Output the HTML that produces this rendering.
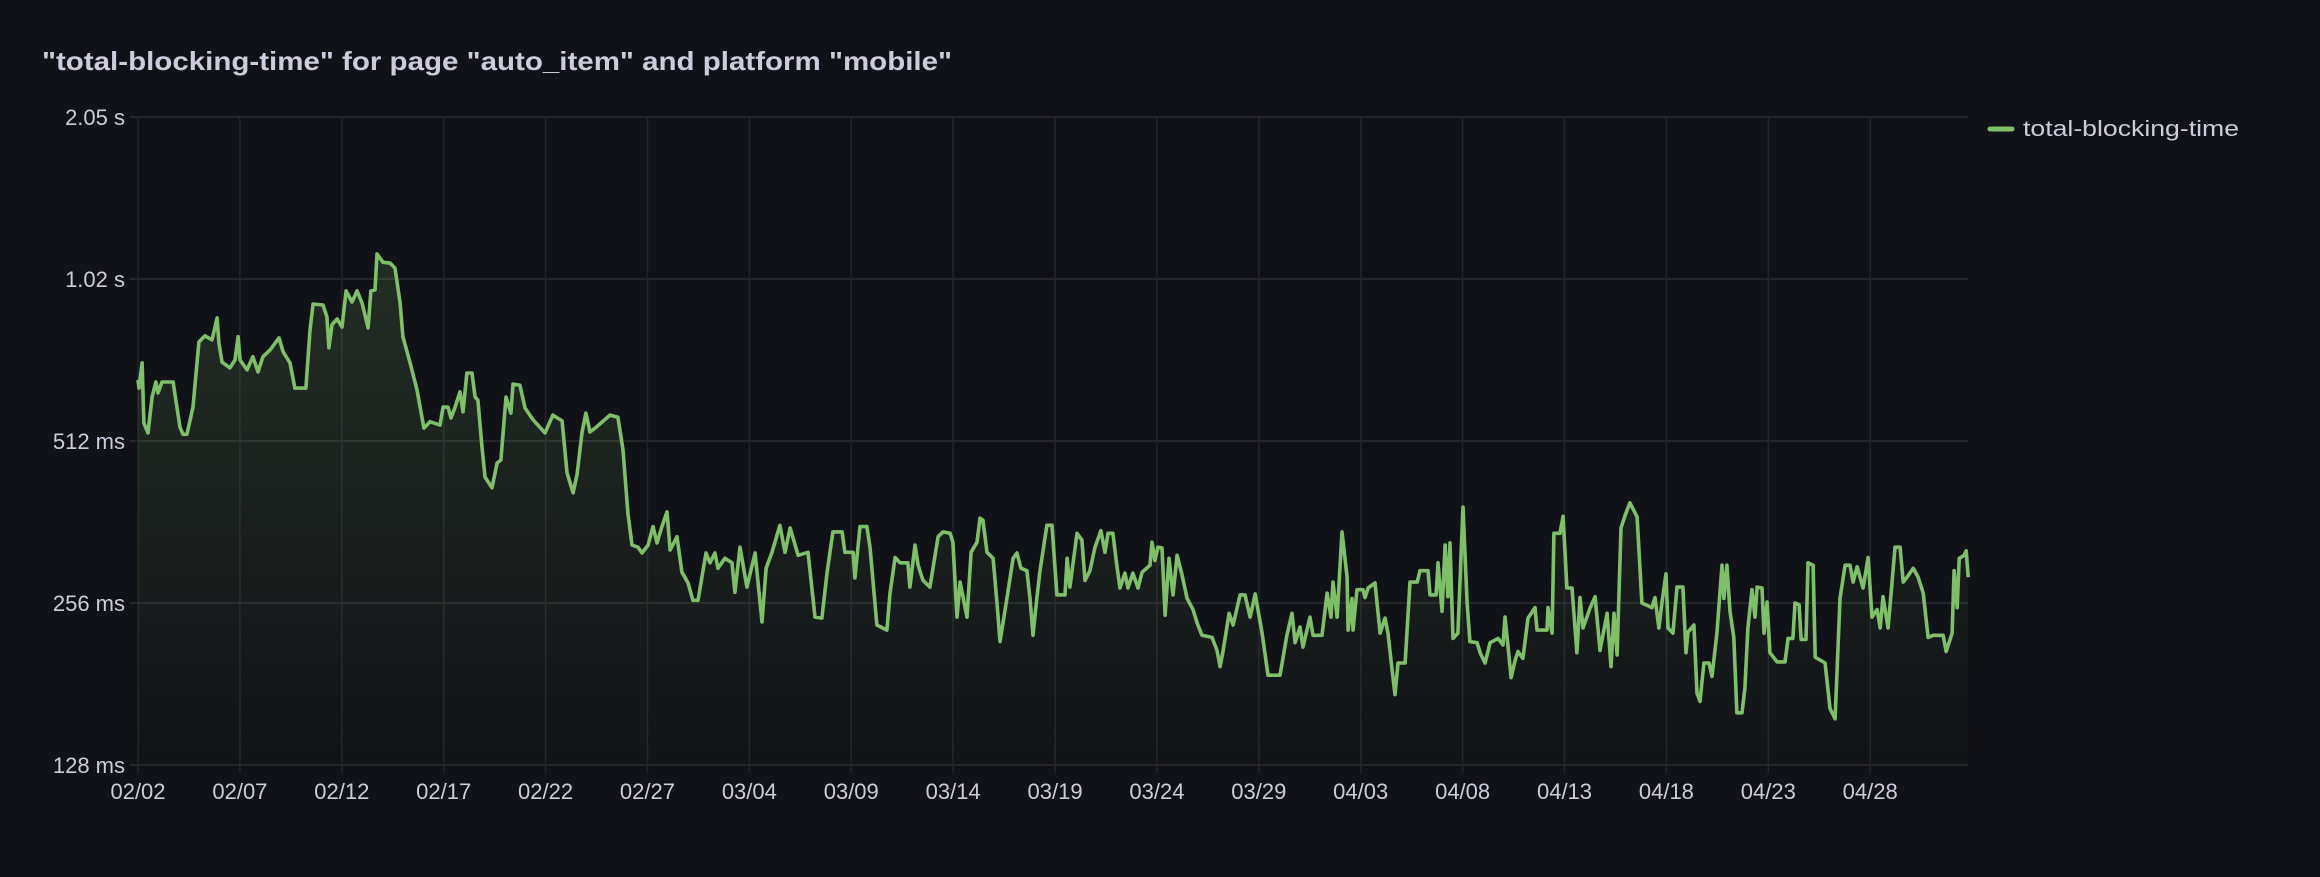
<!DOCTYPE html>
<html>
<head>
<meta charset="utf-8">
<style>
  html,body{margin:0;padding:0;background:#111217;}
  body{width:2320px;height:872px;overflow:hidden;font-family:"Liberation Sans",sans-serif;}
  svg text{font-family:"Liberation Sans",sans-serif;fill:#ccccdc;}
</style>
</head>
<body>
<svg id="chart" width="2320" height="872" viewBox="0 0 2320 872" xmlns="http://www.w3.org/2000/svg">
  <rect x="0" y="0" width="2320" height="872" fill="#111217"/>
  <text x="42" y="70" font-size="26" font-weight="bold" textLength="910" lengthAdjust="spacingAndGlyphs">"total-blocking-time" for page "auto_item" and platform "mobile"</text>
  <defs>
    <linearGradient id="fillGrad" x1="0" y1="0" x2="0" y2="1">
      <stop offset="0" stop-color="#7fbf6a" stop-opacity="0.16"/>
      <stop offset="1" stop-color="#7fbf6a" stop-opacity="0.01"/>
    </linearGradient>
  </defs>
  <g id="grid"></g>
  <g id="series"></g>
  <g id="axes"></g>
  <g>
    <line x1="1990" y1="129" x2="2012" y2="129" stroke="#7fbf6a" stroke-width="5" stroke-linecap="round"/>
    <text x="2023" y="136" font-size="22" textLength="216" lengthAdjust="spacingAndGlyphs">total-blocking-time</text>
  </g>
</svg>
<script>
// Day offsets from 02/02 (x categories)
const days = [0,0.05,0.2,0.29,0.49,0.69,0.88,0.98,1.18,1.72,2.06,2.21,2.40,2.70,2.99,3.29,3.63,3.88,3.97,4.12,4.51,4.76,4.91,5.01,5.35,5.64,5.89,6.13,6.48,6.92,7.12,7.46,7.70,8.24,8.44,8.59,9.08,9.27,9.37,9.52,9.77,10.01,10.21,10.50,10.75,10.99,11.29,11.43,11.63,11.73,12.02,12.37,12.61,12.86,13.00,13.35,13.69,14.03,14.33,14.82,14.97,15.21,15.36,15.56,15.80,15.95,16.14,16.39,16.54,16.68,16.88,17.03,17.37,17.62,17.81,18.06,18.30,18.40,18.74,18.99,19.38,19.97,20.36,20.81,21.05,21.35,21.54,21.79,21.98,22.18,22.43,23.16,23.55,23.80,24.04,24.24,24.54,24.73,25.03,25.27,25.47,25.71,25.96,26.11,26.45,26.69,26.99,27.23,27.48,27.87,28.07,28.31,28.46,28.80,29.15,29.29,29.54,29.88,30.28,30.62,30.82,31.11,31.50,31.75,32.00,32.39,32.88,33.22,33.56,33.81,34.10,34.55,34.69,35.09,35.18,35.43,35.77,35.92,36.26,36.75,36.90,37.15,37.39,37.78,37.88,38.13,38.28,38.52,38.86,39.26,39.50,39.85,39.99,40.19,40.34,40.68,40.88,41.17,41.32,41.46,41.66,41.96,42.15,42.30,42.64,42.94,43.13,43.33,43.62,43.77,43.92,44.11,44.26,44.60,44.85,45.09,45.49,45.59,45.73,46.08,46.32,46.47,46.71,46.96,47.25,47.45,47.60,47.84,48.04,48.19,48.43,48.58,48.82,49.07,49.27,49.66,49.76,49.90,50.05,50.25,50.40,50.59,50.79,50.99,51.23,51.48,51.77,51.97,52.21,52.70,52.95,53.10,53.24,53.54,53.74,54.08,54.32,54.57,54.82,55.16,55.45,56.04,56.38,56.63,56.78,57.02,57.17,57.51,57.66,58.10,58.35,58.54,58.64,58.84,59.08,59.33,59.38,59.57,59.62,59.82,60.11,60.21,60.36,60.70,60.95,61.19,61.34,61.54,61.68,61.83,62.18,62.42,62.77,62.91,63.30,63.40,63.70,63.79,63.99,64.14,64.28,64.38,64.53,64.77,65.02,65.22,65.36,65.71,65.86,66.10,66.35,66.74,66.98,67.08,67.23,67.38,67.57,67.72,67.96,68.21,68.55,68.65,69.14,69.19,69.39,69.48,69.78,69.93,70.12,70.37,70.61,70.76,70.91,71.26,71.50,71.74,72.09,72.28,72.43,72.58,72.77,72.97,73.21,73.56,73.80,74.29,74.44,74.63,74.78,74.98,75.08,75.32,75.52,75.81,75.96,76.06,76.35,76.50,76.65,76.84,77.09,77.24,77.48,77.73,77.82,77.97,78.12,78.31,78.46,78.71,78.85,79.00,79.20,79.35,79.45,79.69,79.79,79.94,80.08,80.43,80.82,80.97,81.21,81.31,81.51,81.61,81.85,81.95,82.20,82.30,82.79,83.03,83.28,83.52,83.77,84.01,84.16,84.36,84.65,84.90,85.09,85.34,85.49,85.63,85.88,86.08,86.22,86.47,86.62,86.81,87.11,87.35,87.60,87.84,88.09,88.58,88.73,89.02,89.12,89.27,89.37,89.61,89.71,89.81];
// total-blocking-time values (ms)
const tbtValues = [665,642,715,553,530,618,659,629,659,659,543,527,527,592,782,803,789,867,779,718,700,724,800,724,694,734,688,734,756,796,750,715,642,642,823,920,916,871,763,842,863,834,973,928,973,924,831,973,977,1140,1100,1096,1073,924,800,715,637,541,556,548,592,592,565,592,632,580,685,685,618,610,499,439,419,466,472,618,577,653,650,590,561,530,572,558,447,410,443,532,577,532,541,572,567,493,376,328,325,317,328,355,331,355,378,321,340,292,279,259,259,317,304,317,297,310,304,268,325,274,317,236,297,318,357,318,353,314,318,241,240,291,347,347,318,318,285,355,355,325,233,228,267,311,304,304,274,328,301,282,274,340,347,345,332,241,280,241,318,332,368,365,318,310,256,217,261,310,317,297,294,261,223,262,294,357,357,265,265,310,274,345,335,282,294,325,349,318,345,345,299,273,291,273,291,273,292,301,332,307,325,324,243,310,265,314,289,261,249,235,223,221,209,195,208,245,233,265,265,241,266,225,188,188,223,245,216,231,212,241,223,223,267,241,280,241,347,286,228,261,228,271,271,262,273,279,225,240,225,192,173,198,198,280,280,294,294,265,265,304,247,328,263,331,220,225,386,256,217,216,207,198,216,220,214,241,212,186,200,208,202,240,251,228,228,251,225,345,345,371,273,273,207,262,230,251,263,209,245,195,245,205,353,372,393,370,256,251,262,230,256,290,230,225,274,274,207,226,233,174,168,198,198,187,225,301,261,301,247,221,160,160,178,230,271,241,274,273,225,257,207,199,199,220,220,256,254,219,219,304,301,203,198,163,156,261,301,301,280,299,273,311,241,249,230,263,230,282,325,325,280,286,297,286,267,221,223,223,208,225,294,251,310,314,320,286];
const tickDays = [0,5,10,15,20,25,30,35,40,45,50,55,60,65,70,75,80,85];
const tickLabels = ["02/02","02/07","02/12","02/17","02/22","02/27","03/04","03/09","03/14","03/19","03/24","03/29","04/03","04/08","04/13","04/18","04/23","04/28"];
const yTickValues = [128,256,512,1024,2048];
const yTickLabels = ["128 ms","256 ms","512 ms","1.02 s","2.05 s"];

const NS = "http://www.w3.org/2000/svg";
const plotL = 138, plotR = 1968, plotT = 117, plotB = 765;
const dayMax = 89.8;
function xScale(d){ return plotL + d / dayMax * (plotR - plotL); }
function yScale(v){ return plotB - (Math.log2(v) - Math.log2(128)) / (Math.log2(2048) - Math.log2(128)) * (plotB - plotT); }
function mk(tag, attrs){ const e = document.createElementNS(NS, tag); for (const k in attrs) e.setAttribute(k, attrs[k]); return e; }

const grid = document.getElementById('grid');
const axes = document.getElementById('axes');
const series = document.getElementById('series');

yTickValues.forEach((v, i) => {
  const y = yScale(v);
  const ln = mk('line', {x1: plotL - 8, x2: plotR, y1: y, y2: y, stroke: '#2b2c32', 'stroke-width': 1.5});
  
  
  grid.appendChild(ln);
  const t = mk('text', {x: 125, y: y + 8, 'font-size': 22, 'text-anchor': 'end'});
  t.textContent = yTickLabels[i];
  
  
  axes.appendChild(t);
});

tickDays.forEach((d, i) => {
  const x = xScale(d);
  const ln = mk('line', {x1: x, x2: x, y1: plotT, y2: plotB + 8, stroke: '#24252b', 'stroke-width': 1.5});
  
  
  grid.appendChild(ln);
  const t = mk('text', {x: x, y: 799, 'font-size': 22, 'text-anchor': 'middle'});
  t.textContent = tickLabels[i];
  
  
  axes.appendChild(t);
});

let pts = days.map((d, i) => xScale(d).toFixed(1) + ',' + yScale(tbtValues[i]).toFixed(1));
const area = mk('path', {d: 'M' + xScale(days[0]).toFixed(1) + ',' + plotB + ' L' + pts.join(' L') + ' L' + xScale(days[days.length-1]).toFixed(1) + ',' + plotB + ' Z', fill: 'url(#fillGrad)', stroke: 'none'});


series.appendChild(area);
const line = mk('path', {d: 'M' + pts.join(' L'), fill: 'none', stroke: '#7fbf6a', 'stroke-width': 3.6, 'stroke-linejoin': 'round'});


series.appendChild(line);
</script>
</body>
</html>
